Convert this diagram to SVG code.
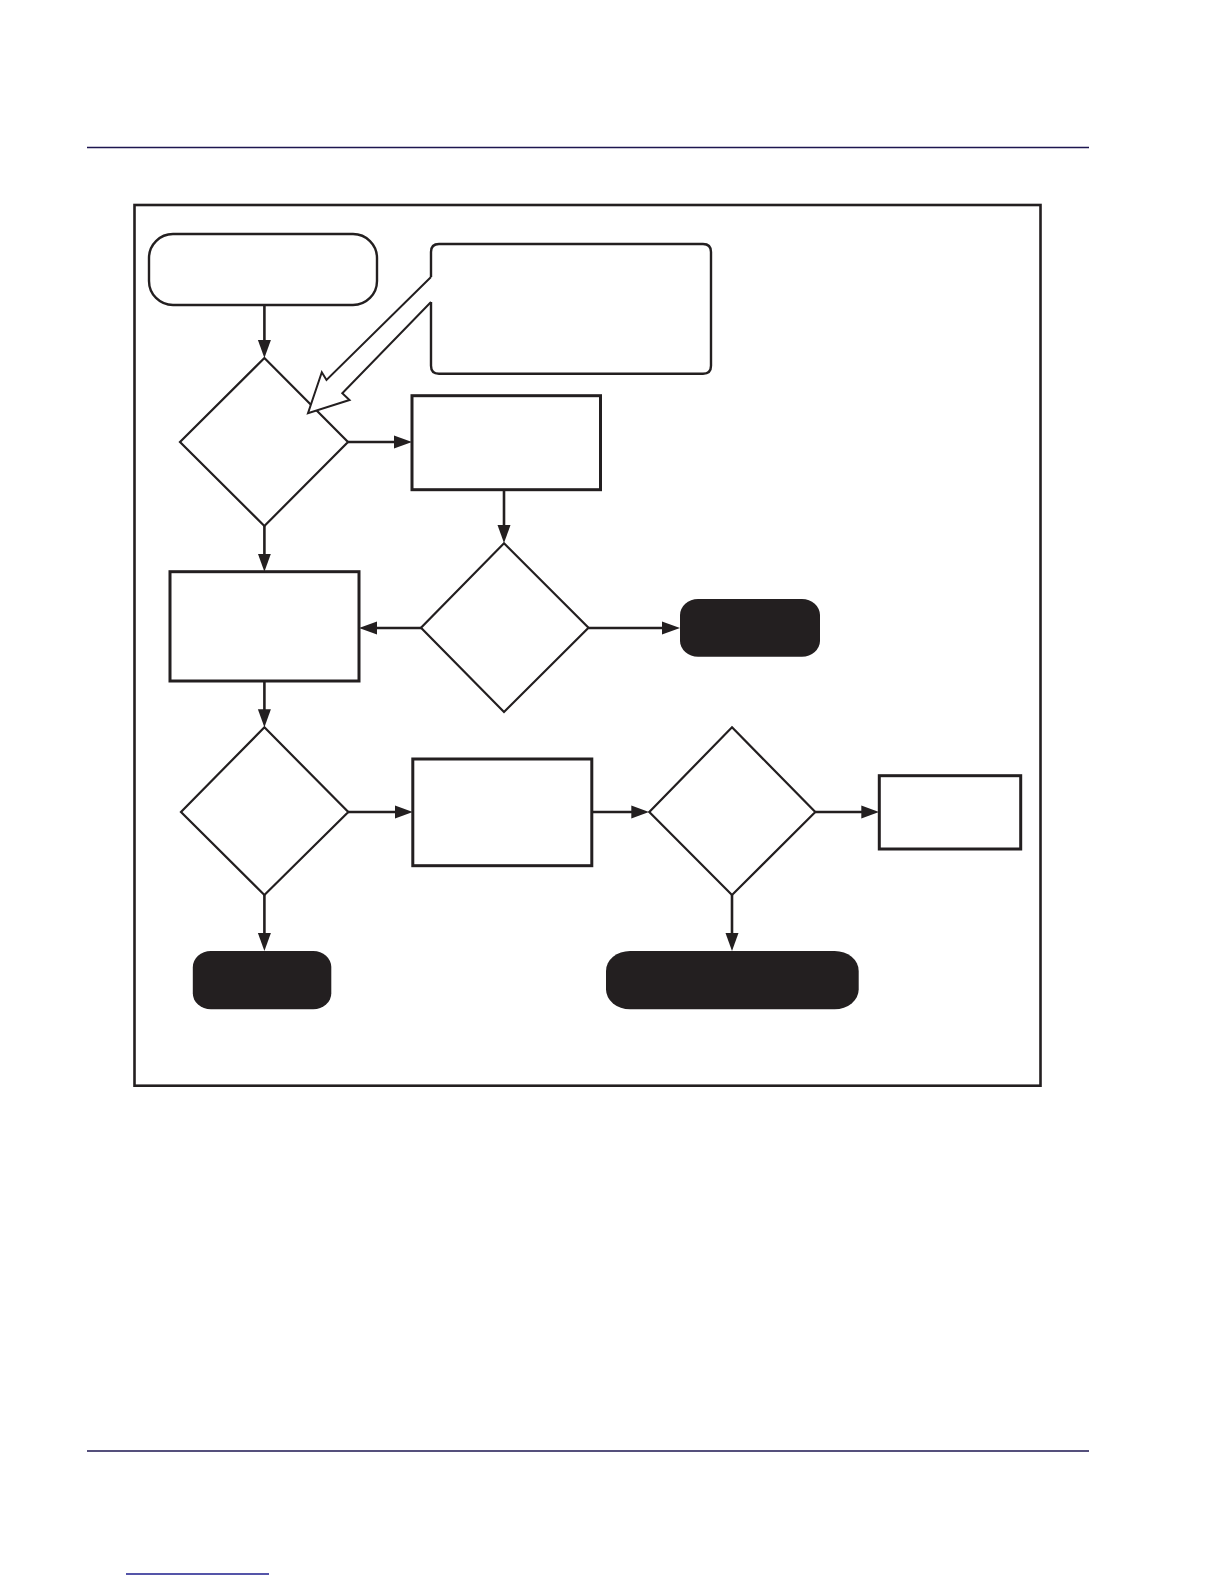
<svg xmlns="http://www.w3.org/2000/svg" width="1224" height="1584" viewBox="0 0 1224 1584">
<style>
.rule{stroke:#1d1650;stroke-width:1.6;fill:none}
.frame{fill:none;stroke:#231f20;stroke-width:2.6}
.box{fill:#fff;stroke:#231f20;stroke-width:3}
.dia{fill:#fff;stroke:#231f20;stroke-width:2.2}
.term{fill:#fff;stroke:#231f20;stroke-width:2.4}
.blk{fill:#231f20;stroke:none}
.conn{fill:none;stroke:#231f20;stroke-width:2.6}
</style>
<defs>
<marker id="ah" markerUnits="userSpaceOnUse" markerWidth="18" markerHeight="14" refX="8" refY="7" orient="auto">
<path d="M0,0.5 L18,7 L0,13.5 z" fill="#231f20"/>
</marker>
</defs>
<rect width="1224" height="1584" fill="#fff"/>
<line class="rule" x1="87" y1="147.5" x2="1089" y2="147.5"/>
<line class="rule" x1="87" y1="1451" x2="1089" y2="1451"/>
<line x1="126" y1="1574" x2="269" y2="1574" stroke="#1c1c8c" stroke-width="1.6"/>
<rect class="frame" x="134.5" y="205" width="906" height="880.7"/>
<g id="connectors">
<line class="conn" x1="264.4" y1="305" x2="264.4" y2="348" marker-end="url(#ah)"/>
<line class="conn" x1="347.5" y1="442" x2="402" y2="442" marker-end="url(#ah)"/>
<line class="conn" x1="504" y1="490" x2="504" y2="533" marker-end="url(#ah)"/>
<line class="conn" x1="264.4" y1="526" x2="264.4" y2="561.7" marker-end="url(#ah)"/>
<line class="conn" x1="421" y1="628" x2="369" y2="628" marker-end="url(#ah)"/>
<line class="conn" x1="588.5" y1="628" x2="670" y2="628" marker-end="url(#ah)"/>
<line class="conn" x1="264.4" y1="681" x2="264.4" y2="717.3" marker-end="url(#ah)"/>
<line class="conn" x1="348" y1="812" x2="402.8" y2="812" marker-end="url(#ah)"/>
<line class="conn" x1="591.8" y1="812" x2="639.3" y2="812" marker-end="url(#ah)"/>
<line class="conn" x1="815.3" y1="812" x2="869.3" y2="812" marker-end="url(#ah)"/>
<line class="conn" x1="264.4" y1="895" x2="264.4" y2="941" marker-end="url(#ah)"/>
<line class="conn" x1="732" y1="895" x2="732" y2="941" marker-end="url(#ah)"/>
</g>
<g id="start"><rect class="term" x="149" y="234" width="228" height="71" rx="24" ry="24"/></g>
<g id="decision1"><polygon class="dia" points="264.4,358 348,442 264.4,526 180,442"/></g>
<g id="note">
<path class="term" stroke-width="2.2" d="M431,302 L431,365.7 Q431,373.7 439,373.7 L703,373.7 Q711,373.7 711,365.7 L711,252 Q711,244 703,244 L439,244 Q431,244 431,252 L431,277"/>
<path fill="#fff" stroke="#231f20" stroke-width="2" stroke-linejoin="miter" d="M431,277 L326.5,380 L321.8,372.3 L308,413.3 L349.5,400 L342.3,393.3 L431,302"/>
</g>
<g id="process1"><rect class="box" x="412" y="395.7" width="188.5" height="94"/></g>
<g id="decision2"><polygon class="dia" points="504,543.3 588.5,627.7 504,712 421,627.7"/></g>
<g id="process2"><rect class="box" x="170" y="571.7" width="189" height="109.3"/></g>
<g id="end1"><rect class="blk" x="680" y="599" width="140" height="57.7" rx="18" ry="16"/></g>
<g id="decision3"><polygon class="dia" points="264.4,727.3 348.3,812 264.4,895 181,812"/></g>
<g id="process3"><rect class="box" x="412.8" y="759" width="179" height="106.7"/></g>
<g id="decision4"><polygon class="dia" points="732,727.3 815.3,812 732,895 649.3,812"/></g>
<g id="process4"><rect class="box" x="879.3" y="775.7" width="141.4" height="73.3"/></g>
<g id="end2"><rect class="blk" x="192.8" y="951" width="138.5" height="58.3" rx="18" ry="16"/></g>
<g id="end3"><rect class="blk" x="606" y="951" width="252.7" height="58.3" rx="24" ry="20"/></g>
</svg>
